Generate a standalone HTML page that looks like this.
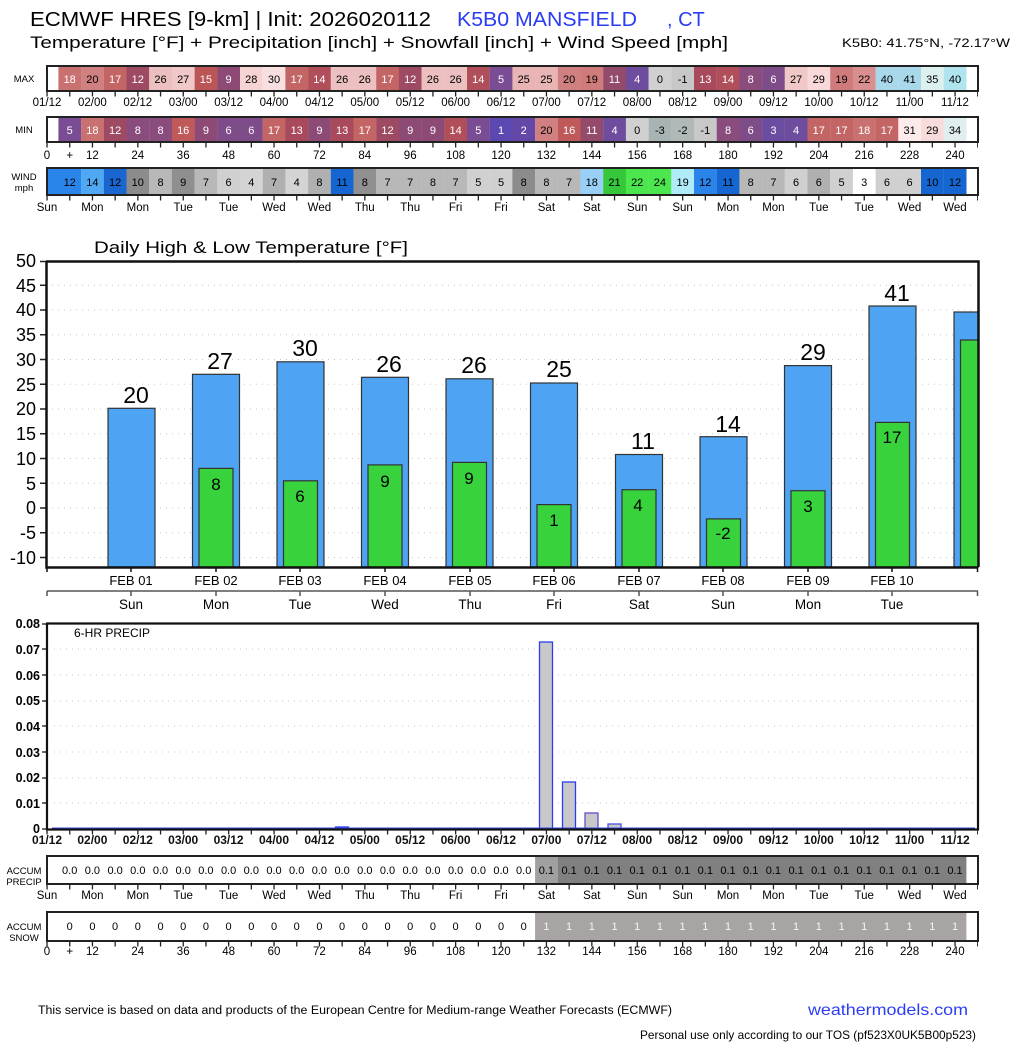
<!DOCTYPE html>
<html><head><meta charset="utf-8"><style>
html,body{margin:0;padding:0;background:#fff;}
svg{display:block;font-family:"Liberation Sans",sans-serif;}
.c{font-size:11px;text-anchor:middle;}
.w{fill:#fff;}
.t{font-size:11.5px;text-anchor:middle;fill:#000;}
.l{font-size:9.5px;text-anchor:middle;}
</style></head><body>
<svg width="1024" height="1044" viewBox="0 0 1024 1044" xmlns="http://www.w3.org/2000/svg">
<rect width="1024" height="1044" fill="#fff"/>
<!-- header -->
<text x="30" y="26" font-size="20" textLength="401" lengthAdjust="spacingAndGlyphs">ECMWF HRES [9-km] | Init: 2026020112</text>
<text x="457" y="26" font-size="20" fill="#2b3cf5" textLength="180" lengthAdjust="spacingAndGlyphs">K5B0 MANSFIELD</text>
<text x="667" y="26" font-size="20" fill="#2b3cf5">, CT</text>
<text x="30" y="48" font-size="17" textLength="698" lengthAdjust="spacingAndGlyphs">Temperature [°F] + Precipitation [inch] + Snowfall [inch] + Wind Speed [mph]</text>
<text x="842" y="47" font-size="12" textLength="168" lengthAdjust="spacingAndGlyphs">K5B0: 41.75°N, -72.17°W</text>

<!-- MAX row -->
<text x="24" y="82" class="l">MAX</text>
<g>
<rect x="58.4" y="66" width="22.8" height="25" fill="#c97070"/><rect x="81.1" y="66" width="22.8" height="25" fill="#d08080"/><rect x="103.8" y="66" width="22.8" height="25" fill="#c46565"/><rect x="126.5" y="66" width="22.8" height="25" fill="#9e4a62"/><rect x="149.2" y="66" width="22.8" height="25" fill="#ecc0c0"/><rect x="171.9" y="66" width="22.8" height="25" fill="#f0c8c8"/><rect x="194.6" y="66" width="22.8" height="25" fill="#bc5555"/><rect x="217.3" y="66" width="22.8" height="25" fill="#8c4a75"/><rect x="240" y="66" width="22.8" height="25" fill="#f6d4d4"/><rect x="262.7" y="66" width="22.8" height="25" fill="#f9e0e0"/><rect x="285.4" y="66" width="22.8" height="25" fill="#c46565"/><rect x="308.1" y="66" width="22.8" height="25" fill="#b04e5a"/><rect x="330.8" y="66" width="22.8" height="25" fill="#ecc0c0"/><rect x="353.5" y="66" width="22.8" height="25" fill="#ecc0c0"/><rect x="376.2" y="66" width="22.8" height="25" fill="#c46565"/><rect x="398.9" y="66" width="22.8" height="25" fill="#9e4a62"/><rect x="421.6" y="66" width="22.8" height="25" fill="#ecc0c0"/><rect x="444.3" y="66" width="22.8" height="25" fill="#ecc0c0"/><rect x="467" y="66" width="22.8" height="25" fill="#b04e5a"/><rect x="489.7" y="66" width="22.8" height="25" fill="#7a4c93"/>
<rect x="512.4" y="66" width="22.8" height="25" fill="#e8b4b4"/><rect x="535.1" y="66" width="22.8" height="25" fill="#e8b4b4"/><rect x="557.8" y="66" width="22.8" height="25" fill="#d08080"/><rect x="580.5" y="66" width="22.8" height="25" fill="#cf7b7b"/><rect x="603.2" y="66" width="22.8" height="25" fill="#944a6a"/><rect x="625.9" y="66" width="22.8" height="25" fill="#6e4c9e"/><rect x="648.6" y="66" width="22.8" height="25" fill="#d0d0d0"/><rect x="671.3" y="66" width="22.8" height="25" fill="#c8c8c8"/><rect x="694" y="66" width="22.8" height="25" fill="#a84a5c"/><rect x="716.7" y="66" width="22.8" height="25" fill="#b04e5a"/><rect x="739.4" y="66" width="22.8" height="25" fill="#8a4c7c"/><rect x="762.1" y="66" width="22.8" height="25" fill="#7e4c88"/><rect x="784.8" y="66" width="22.8" height="25" fill="#f0c8c8"/><rect x="807.5" y="66" width="22.8" height="25" fill="#f8d8d8"/><rect x="830.2" y="66" width="22.8" height="25" fill="#cf7b7b"/><rect x="852.9" y="66" width="22.8" height="25" fill="#d98f8f"/><rect x="875.6" y="66" width="22.8" height="25" fill="#a8d8ea"/><rect x="898.3" y="66" width="22.8" height="25" fill="#a8d8ea"/><rect x="921" y="66" width="22.8" height="25" fill="#ddf0f0"/><rect x="943.7" y="66" width="22.8" height="25" fill="#b0e4ee"/>
</g>
<rect x="47" y="66" width="931" height="25" fill="none" stroke="#222" stroke-width="2"/>
<g class="c">
<text x="69.7" y="83" class="w">18</text><text x="92.4" y="83">20</text><text x="115.1" y="83" class="w">17</text><text x="137.8" y="83" class="w">12</text><text x="160.5" y="83">26</text><text x="183.2" y="83">27</text><text x="205.9" y="83" class="w">15</text><text x="228.6" y="83" class="w">9</text><text x="251.3" y="83">28</text><text x="274" y="83">30</text><text x="296.7" y="83" class="w">17</text><text x="319.4" y="83" class="w">14</text><text x="342.1" y="83">26</text><text x="364.8" y="83">26</text><text x="387.5" y="83" class="w">17</text><text x="410.2" y="83" class="w">12</text><text x="432.9" y="83">26</text><text x="455.6" y="83">26</text><text x="478.3" y="83" class="w">14</text><text x="501" y="83" class="w">5</text>
<text x="523.7" y="83">25</text><text x="546.4" y="83">25</text><text x="569.1" y="83">20</text><text x="591.8" y="83">19</text><text x="614.5" y="83" class="w">11</text><text x="637.2" y="83" class="w">4</text><text x="659.9" y="83">0</text><text x="682.6" y="83">-1</text><text x="705.3" y="83" class="w">13</text><text x="728" y="83" class="w">14</text><text x="750.7" y="83" class="w">8</text><text x="773.4" y="83" class="w">6</text><text x="796.1" y="83">27</text><text x="818.8" y="83">29</text><text x="841.5" y="83">19</text><text x="864.2" y="83">22</text><text x="886.9" y="83">40</text><text x="909.6" y="83">41</text><text x="932.3" y="83">35</text><text x="955" y="83">40</text>
</g>
<line x1="46.4" y1="94" x2="978" y2="94" stroke="#222" stroke-width="5" stroke-dasharray="1.3 21.4"/>
<g class="t">
<text x="47" y="106">01/12</text><text x="92.4" y="106">02/00</text><text x="137.8" y="106">02/12</text><text x="183.2" y="106">03/00</text><text x="228.6" y="106">03/12</text><text x="274" y="106">04/00</text><text x="319.4" y="106">04/12</text><text x="364.8" y="106">05/00</text><text x="410.2" y="106">05/12</text><text x="455.6" y="106">06/00</text><text x="501" y="106">06/12</text><text x="546.4" y="106">07/00</text><text x="591.8" y="106">07/12</text><text x="637.2" y="106">08/00</text><text x="682.6" y="106">08/12</text><text x="728" y="106">09/00</text><text x="773.4" y="106">09/12</text><text x="818.8" y="106">10/00</text><text x="864.2" y="106">10/12</text><text x="909.6" y="106">11/00</text><text x="955" y="106">11/12</text>
</g>

<!-- MIN row -->
<text x="24" y="133" class="l">MIN</text>
<g>
<rect x="58.4" y="117" width="22.8" height="25" fill="#7a4c93"/><rect x="81.1" y="117" width="22.8" height="25" fill="#c97070"/><rect x="103.8" y="117" width="22.8" height="25" fill="#9e4a62"/><rect x="126.5" y="117" width="22.8" height="25" fill="#8a4c7c"/><rect x="149.2" y="117" width="22.8" height="25" fill="#8a4c7c"/><rect x="171.9" y="117" width="22.8" height="25" fill="#c05a5a"/><rect x="194.6" y="117" width="22.8" height="25" fill="#8c4a75"/><rect x="217.3" y="117" width="22.8" height="25" fill="#7e4c88"/><rect x="240" y="117" width="22.8" height="25" fill="#7e4c88"/><rect x="262.7" y="117" width="22.8" height="25" fill="#c46565"/><rect x="285.4" y="117" width="22.8" height="25" fill="#a84a5c"/><rect x="308.1" y="117" width="22.8" height="25" fill="#8c4a75"/><rect x="330.8" y="117" width="22.8" height="25" fill="#a84a5c"/><rect x="353.5" y="117" width="22.8" height="25" fill="#c46565"/><rect x="376.2" y="117" width="22.8" height="25" fill="#9e4a62"/><rect x="398.9" y="117" width="22.8" height="25" fill="#8c4a75"/><rect x="421.6" y="117" width="22.8" height="25" fill="#8c4a75"/><rect x="444.3" y="117" width="22.8" height="25" fill="#b04e5a"/><rect x="467" y="117" width="22.8" height="25" fill="#7a4c93"/><rect x="489.7" y="117" width="22.8" height="25" fill="#5c48b0"/>
<rect x="512.4" y="117" width="22.8" height="25" fill="#6448a8"/><rect x="535.1" y="117" width="22.8" height="25" fill="#d08080"/><rect x="557.8" y="117" width="22.8" height="25" fill="#c05a5a"/><rect x="580.5" y="117" width="22.8" height="25" fill="#944a6a"/><rect x="603.2" y="117" width="22.8" height="25" fill="#6e4c9e"/><rect x="625.9" y="117" width="22.8" height="25" fill="#d0d0d0"/><rect x="648.6" y="117" width="22.8" height="25" fill="#a8b4b4"/><rect x="671.3" y="117" width="22.8" height="25" fill="#b0b8b8"/><rect x="694" y="117" width="22.8" height="25" fill="#c8c8c8"/><rect x="716.7" y="117" width="22.8" height="25" fill="#8a4c7c"/><rect x="739.4" y="117" width="22.8" height="25" fill="#7e4c88"/><rect x="762.1" y="117" width="22.8" height="25" fill="#6a4ca0"/><rect x="784.8" y="117" width="22.8" height="25" fill="#6e4c9e"/><rect x="807.5" y="117" width="22.8" height="25" fill="#c46565"/><rect x="830.2" y="117" width="22.8" height="25" fill="#c46565"/><rect x="852.9" y="117" width="22.8" height="25" fill="#c97070"/><rect x="875.6" y="117" width="22.8" height="25" fill="#c46565"/><rect x="898.3" y="117" width="22.8" height="25" fill="#fdeaea"/><rect x="921" y="117" width="22.8" height="25" fill="#f8dcdc"/><rect x="943.7" y="117" width="22.8" height="25" fill="#e0eef0"/>
</g>
<rect x="47" y="117" width="931" height="25" fill="none" stroke="#222" stroke-width="2"/>
<g class="c">
<text x="69.7" y="134" class="w">5</text><text x="92.4" y="134" class="w">18</text><text x="115.1" y="134" class="w">12</text><text x="137.8" y="134" class="w">8</text><text x="160.5" y="134" class="w">8</text><text x="183.2" y="134" class="w">16</text><text x="205.9" y="134" class="w">9</text><text x="228.6" y="134" class="w">6</text><text x="251.3" y="134" class="w">6</text><text x="274" y="134" class="w">17</text><text x="296.7" y="134" class="w">13</text><text x="319.4" y="134" class="w">9</text><text x="342.1" y="134" class="w">13</text><text x="364.8" y="134" class="w">17</text><text x="387.5" y="134" class="w">12</text><text x="410.2" y="134" class="w">9</text><text x="432.9" y="134" class="w">9</text><text x="455.6" y="134" class="w">14</text><text x="478.3" y="134" class="w">5</text><text x="501" y="134" class="w">1</text>
<text x="523.7" y="134" class="w">2</text><text x="546.4" y="134">20</text><text x="569.1" y="134" class="w">16</text><text x="591.8" y="134" class="w">11</text><text x="614.5" y="134" class="w">4</text><text x="637.2" y="134">0</text><text x="659.9" y="134">-3</text><text x="682.6" y="134">-2</text><text x="705.3" y="134">-1</text><text x="728" y="134" class="w">8</text><text x="750.7" y="134" class="w">6</text><text x="773.4" y="134" class="w">3</text><text x="796.1" y="134" class="w">4</text><text x="818.8" y="134" class="w">17</text><text x="841.5" y="134" class="w">17</text><text x="864.2" y="134" class="w">18</text><text x="886.9" y="134" class="w">17</text><text x="909.6" y="134">31</text><text x="932.3" y="134">29</text><text x="955" y="134">34</text>
</g>
<line x1="46.4" y1="145" x2="978" y2="145" stroke="#222" stroke-width="5" stroke-dasharray="1.3 21.4"/>
<g class="t">
<text x="47" y="159">0</text><text x="69.7" y="159">+</text><text x="92.4" y="159">12</text><text x="137.8" y="159">24</text><text x="183.2" y="159">36</text><text x="228.6" y="159">48</text><text x="274" y="159">60</text><text x="319.4" y="159">72</text><text x="364.8" y="159">84</text><text x="410.2" y="159">96</text><text x="455.6" y="159">108</text><text x="501" y="159">120</text><text x="546.4" y="159">132</text><text x="591.8" y="159">144</text><text x="637.2" y="159">156</text><text x="682.6" y="159">168</text><text x="728" y="159">180</text><text x="773.4" y="159">192</text><text x="818.8" y="159">204</text><text x="864.2" y="159">216</text><text x="909.6" y="159">228</text><text x="955" y="159">240</text>
</g>

<!-- WIND row -->
<text x="24" y="180" class="l">WIND</text><text x="24" y="191" class="l">mph</text>
<g>
<rect x="47" y="168" width="34.2" height="27" fill="#2a84ea"/><rect x="81.1" y="168" width="22.8" height="27" fill="#4ea8f2"/><rect x="103.8" y="168" width="22.8" height="27" fill="#1a66d0"/><rect x="126.5" y="168" width="22.8" height="27" fill="#8c8c8c"/><rect x="149.2" y="168" width="22.8" height="27" fill="#b8b8b8"/><rect x="171.9" y="168" width="22.8" height="27" fill="#8f8f8f"/><rect x="194.6" y="168" width="22.8" height="27" fill="#b8b8b8"/><rect x="217.3" y="168" width="22.8" height="27" fill="#d0d0d0"/><rect x="240" y="168" width="22.8" height="27" fill="#d4d4d4"/><rect x="262.7" y="168" width="22.8" height="27" fill="#b0b0b0"/><rect x="285.4" y="168" width="22.8" height="27" fill="#d4d4d4"/><rect x="308.1" y="168" width="22.8" height="27" fill="#b0b0b0"/><rect x="330.8" y="168" width="22.8" height="27" fill="#1566d0"/><rect x="353.5" y="168" width="22.8" height="27" fill="#909090"/><rect x="376.2" y="168" width="22.8" height="27" fill="#b8b8b8"/><rect x="398.9" y="168" width="22.8" height="27" fill="#b8b8b8"/><rect x="421.6" y="168" width="22.8" height="27" fill="#b8b8b8"/><rect x="444.3" y="168" width="22.8" height="27" fill="#b8b8b8"/><rect x="467" y="168" width="22.8" height="27" fill="#d0d0d0"/><rect x="489.7" y="168" width="22.8" height="27" fill="#d0d0d0"/>
<rect x="512.4" y="168" width="22.8" height="27" fill="#8c8c8c"/><rect x="535.1" y="168" width="22.8" height="27" fill="#b8b8b8"/><rect x="557.8" y="168" width="22.8" height="27" fill="#b8b8b8"/><rect x="580.5" y="168" width="22.8" height="27" fill="#99d0f8"/><rect x="603.2" y="168" width="22.8" height="27" fill="#36c83a"/><rect x="625.9" y="168" width="22.8" height="27" fill="#4ce64e"/><rect x="648.6" y="168" width="22.8" height="27" fill="#4ce64e"/><rect x="671.3" y="168" width="22.8" height="27" fill="#b0ecf8"/><rect x="694" y="168" width="22.8" height="27" fill="#2a84ea"/><rect x="716.7" y="168" width="22.8" height="27" fill="#1566d0"/><rect x="739.4" y="168" width="22.8" height="27" fill="#b8b8b8"/><rect x="762.1" y="168" width="22.8" height="27" fill="#b8b8b8"/><rect x="784.8" y="168" width="22.8" height="27" fill="#d0d0d0"/><rect x="807.5" y="168" width="22.8" height="27" fill="#b0b0b0"/><rect x="830.2" y="168" width="22.8" height="27" fill="#d0d0d0"/><rect x="852.9" y="168" width="22.8" height="27" fill="#ffffff"/><rect x="875.6" y="168" width="22.8" height="27" fill="#d0d0d0"/><rect x="898.3" y="168" width="22.8" height="27" fill="#d0d0d0"/><rect x="921" y="168" width="22.8" height="27" fill="#1566d0"/><rect x="943.7" y="168" width="22.8" height="27" fill="#1566d0"/>
</g>
<rect x="47" y="168" width="931" height="27" fill="none" stroke="#222" stroke-width="2"/>
<g class="c">
<text x="69.7" y="186">12</text><text x="92.4" y="186">14</text><text x="115.1" y="186">12</text><text x="137.8" y="186">10</text><text x="160.5" y="186">8</text><text x="183.2" y="186">9</text><text x="205.9" y="186">7</text><text x="228.6" y="186">6</text><text x="251.3" y="186">4</text><text x="274" y="186">7</text><text x="296.7" y="186">4</text><text x="319.4" y="186">8</text><text x="342.1" y="186">11</text><text x="364.8" y="186">8</text><text x="387.5" y="186">7</text><text x="410.2" y="186">7</text><text x="432.9" y="186">8</text><text x="455.6" y="186">7</text><text x="478.3" y="186">5</text><text x="501" y="186">5</text>
<text x="523.7" y="186">8</text><text x="546.4" y="186">8</text><text x="569.1" y="186">7</text><text x="591.8" y="186">18</text><text x="614.5" y="186">21</text><text x="637.2" y="186">22</text><text x="659.9" y="186">24</text><text x="682.6" y="186">19</text><text x="705.3" y="186">12</text><text x="728" y="186">11</text><text x="750.7" y="186">8</text><text x="773.4" y="186">7</text><text x="796.1" y="186">6</text><text x="818.8" y="186">6</text><text x="841.5" y="186">5</text><text x="864.2" y="186">3</text><text x="886.9" y="186">6</text><text x="909.6" y="186">6</text><text x="932.3" y="186">10</text><text x="955" y="186">12</text>
</g>
<line x1="46.4" y1="198" x2="978" y2="198" stroke="#222" stroke-width="5" stroke-dasharray="1.3 21.4"/>
<g class="t">
<text x="47" y="211">Sun</text><text x="92.4" y="211">Mon</text><text x="137.8" y="211">Mon</text><text x="183.2" y="211">Tue</text><text x="228.6" y="211">Tue</text><text x="274" y="211">Wed</text><text x="319.4" y="211">Wed</text><text x="364.8" y="211">Thu</text><text x="410.2" y="211">Thu</text><text x="455.6" y="211">Fri</text><text x="501" y="211">Fri</text><text x="546.4" y="211">Sat</text><text x="591.8" y="211">Sat</text><text x="637.2" y="211">Sun</text><text x="682.6" y="211">Sun</text><text x="728" y="211">Mon</text><text x="773.4" y="211">Mon</text><text x="818.8" y="211">Tue</text><text x="864.2" y="211">Tue</text><text x="909.6" y="211">Wed</text><text x="955" y="211">Wed</text>
</g>

<!-- Temperature chart -->
<text x="94" y="253" font-size="17" textLength="314" lengthAdjust="spacingAndGlyphs">Daily High &amp; Low Temperature [°F]</text>
<g stroke="#c8c8c8" stroke-width="1" stroke-dasharray="1 5">
<line x1="52" y1="285.2" x2="976" y2="285.2"/><line x1="52" y1="310" x2="976" y2="310"/><line x1="52" y1="334.7" x2="976" y2="334.7"/><line x1="52" y1="359.5" x2="976" y2="359.5"/><line x1="52" y1="384.2" x2="976" y2="384.2"/><line x1="52" y1="409" x2="976" y2="409"/><line x1="52" y1="433.7" x2="976" y2="433.7"/><line x1="52" y1="458.5" x2="976" y2="458.5"/><line x1="52" y1="483.2" x2="976" y2="483.2"/><line x1="52" y1="508" x2="976" y2="508"/><line x1="52" y1="532.7" x2="976" y2="532.7"/><line x1="52" y1="557.5" x2="976" y2="557.5"/>
</g>
<g font-size="18" text-anchor="end">
<text x="36" y="267">50</text><text x="36" y="292">45</text><text x="36" y="316">40</text><text x="36" y="341">35</text><text x="36" y="366">30</text><text x="36" y="391">25</text><text x="36" y="415">20</text><text x="36" y="440">15</text><text x="36" y="465">10</text><text x="36" y="490">5</text><text x="36" y="514">0</text><text x="36" y="539">-5</text><text x="36" y="564">-10</text>
</g>
<g stroke="#222" stroke-width="1.5">
<path d="M40 261.5h6M40 285.2h6M40 310h6M40 334.7h6M40 359.5h6M40 384.2h6M40 409h6M40 433.7h6M40 458.5h6M40 483.2h6M40 508h6M40 532.7h6M40 557.5h6" fill="none"/>
</g>
<g stroke="#333" stroke-width="1.2">
<rect x="108" y="408.3" width="47" height="158.7" fill="#4ea3f2"/>
<rect x="192.5" y="374.3" width="47" height="192.7" fill="#4ea3f2"/>
<rect x="277" y="361.8" width="47" height="205.2" fill="#4ea3f2"/>
<rect x="361.5" y="377.3" width="47" height="189.7" fill="#4ea3f2"/>
<rect x="446" y="378.8" width="47" height="188.2" fill="#4ea3f2"/>
<rect x="530.5" y="383" width="47" height="184" fill="#4ea3f2"/>
<rect x="615.5" y="454.5" width="47" height="112.5" fill="#4ea3f2"/>
<rect x="700" y="436.7" width="47" height="130.3" fill="#4ea3f2"/>
<rect x="784.5" y="365.6" width="47" height="201.4" fill="#4ea3f2"/>
<rect x="869" y="306" width="47" height="261" fill="#4ea3f2"/>
<rect x="954" y="312" width="30" height="255" fill="#4ea3f2"/>
<rect x="199" y="468.4" width="34" height="98.6" fill="#38d23c"/>
<rect x="283.5" y="480.8" width="34" height="86.2" fill="#38d23c"/>
<rect x="368" y="464.9" width="34" height="102.1" fill="#38d23c"/>
<rect x="452.5" y="462.4" width="34" height="104.6" fill="#38d23c"/>
<rect x="537" y="504.6" width="34" height="62.4" fill="#38d23c"/>
<rect x="622" y="489.7" width="34" height="77.3" fill="#38d23c"/>
<rect x="706.5" y="518.9" width="34" height="48.1" fill="#38d23c"/>
<rect x="791" y="490.7" width="34" height="76.3" fill="#38d23c"/>
<rect x="875.5" y="422.4" width="34" height="144.6" fill="#38d23c"/>
<rect x="960.5" y="340" width="24" height="227" fill="#38d23c"/>
</g>
<rect x="979" y="255" width="45" height="320" fill="#fff"/>
<g font-size="23" text-anchor="middle">
<text x="136" y="403">20</text><text x="220" y="369">27</text><text x="305" y="356">30</text><text x="389" y="372">26</text><text x="474" y="373">26</text><text x="559" y="377">25</text><text x="643" y="449">11</text><text x="728" y="432">14</text><text x="813" y="360">29</text><text x="897" y="301">41</text>
</g>
<g font-size="17" text-anchor="middle">
<text x="216" y="490">8</text><text x="300" y="502">6</text><text x="385" y="487">9</text><text x="469" y="484">9</text><text x="554" y="526">1</text><text x="638" y="511">4</text><text x="723" y="539">-2</text><text x="808" y="512">3</text><text x="892" y="443">17</text>
</g>
<path d="M46.5 261v306.5H978M46 261.5H978.5V567" fill="none" stroke="#111" stroke-width="2.5"/>
<path d="M47 567v5M131 567v5M216 567v5M300 567v5M385 567v5M470 567v5M554 567v5M639 567v5M723 567v5M808 567v5M892 567v5M977.5 567v5" stroke="#111" stroke-width="1.5"/>
<g font-size="13" text-anchor="middle">
<text x="131" y="585">FEB 01</text><text x="216" y="585">FEB 02</text><text x="300" y="585">FEB 03</text><text x="385" y="585">FEB 04</text><text x="470" y="585">FEB 05</text><text x="554" y="585">FEB 06</text><text x="639" y="585">FEB 07</text><text x="723" y="585">FEB 08</text><text x="808" y="585">FEB 09</text><text x="892" y="585">FEB 10</text>
</g>
<path d="M47 591H978M47 591v5M131 591v5M216 591v5M300 591v5M385 591v5M470 591v5M554 591v5M639 591v5M723 591v5M808 591v5M892 591v5M977.5 591v5" stroke="#555" stroke-width="1.5" fill="none"/>
<g font-size="13.5" text-anchor="middle">
<text x="131" y="609">Sun</text><text x="216" y="609">Mon</text><text x="300" y="609">Tue</text><text x="385" y="609">Wed</text><text x="470" y="609">Thu</text><text x="554" y="609">Fri</text><text x="639" y="609">Sat</text><text x="723" y="609">Sun</text><text x="808" y="609">Mon</text><text x="892" y="609">Tue</text>
</g>

<!-- Precip chart -->
<g stroke="#c8c8c8" stroke-width="1" stroke-dasharray="1 5">
<line x1="54" y1="649" x2="976" y2="649"/><line x1="54" y1="675" x2="976" y2="675"/><line x1="54" y1="701" x2="976" y2="701"/><line x1="54" y1="726" x2="976" y2="726"/><line x1="54" y1="752" x2="976" y2="752"/><line x1="54" y1="778" x2="976" y2="778"/><line x1="54" y1="803" x2="976" y2="803"/>
</g>
<g font-size="12.5" font-weight="bold" text-anchor="end">
<text x="40" y="628">0.08</text><text x="40" y="654">0.07</text><text x="40" y="680">0.06</text><text x="40" y="705">0.05</text><text x="40" y="731">0.04</text><text x="40" y="757">0.03</text><text x="40" y="782">0.02</text><text x="40" y="808">0.01</text><text x="40" y="833">0</text>
</g>
<path d="M42 624h5M42 649h5M42 675h5M42 701h5M42 726h5M42 752h5M42 778h5M42 803h5M42 829h5" stroke="#111" stroke-width="1.3"/>
<text x="74" y="637" font-size="12">6-HR PRECIP</text>
<g fill="#c8c8c8" stroke="#2a3cf5" stroke-width="1.3">
<rect x="539.5" y="642" width="13" height="187"/>
<rect x="562.5" y="782" width="13" height="47"/>
<rect x="585" y="813" width="13" height="16" stroke="#6a4cd0"/>
<rect x="608" y="824" width="13" height="5" stroke="#4a50e0"/>
<rect x="335.5" y="827" width="13" height="2" fill="#4a4ae8"/>
</g>
<line x1="52" y1="828.5" x2="975" y2="828.5" stroke="#3a4ae8" stroke-width="2"/>
<path d="M47 624V829.5H978V623.5H46" fill="none" stroke="#111" stroke-width="2.2"/>
<line x1="46.4" y1="832" x2="978" y2="832" stroke="#222" stroke-width="5" stroke-dasharray="1.3 21.4"/>
<g font-size="12" font-weight="bold" text-anchor="middle" fill="#111">
<text x="47" y="844">01/12</text><text x="92.4" y="844">02/00</text><text x="137.8" y="844">02/12</text><text x="183.2" y="844">03/00</text><text x="228.6" y="844">03/12</text><text x="274" y="844">04/00</text><text x="319.4" y="844">04/12</text><text x="364.8" y="844">05/00</text><text x="410.2" y="844">05/12</text><text x="455.6" y="844">06/00</text><text x="501" y="844">06/12</text><text x="546.4" y="844">07/00</text><text x="591.8" y="844">07/12</text><text x="637.2" y="844">08/00</text><text x="682.6" y="844">08/12</text><text x="728" y="844">09/00</text><text x="773.4" y="844">09/12</text><text x="818.8" y="844">10/00</text><text x="864.2" y="844">10/12</text><text x="909.6" y="844">11/00</text><text x="955" y="844">11/12</text>
</g>

<!-- ACCUM PRECIP -->
<text x="24" y="874" class="l">ACCUM</text><text x="24" y="885" class="l">PRECIP</text>
<rect x="535.1" y="856" width="22.8" height="28" fill="#a0a0a0"/>
<rect x="557.8" y="856" width="408.6" height="28" fill="#808080"/>
<rect x="47" y="856" width="931" height="28" fill="none" stroke="#222" stroke-width="2"/>
<g class="c">
<text x="69.7" y="874">0.0</text><text x="92.4" y="874">0.0</text><text x="115.1" y="874">0.0</text><text x="137.8" y="874">0.0</text><text x="160.5" y="874">0.0</text><text x="183.2" y="874">0.0</text><text x="205.9" y="874">0.0</text><text x="228.6" y="874">0.0</text><text x="251.3" y="874">0.0</text><text x="274" y="874">0.0</text><text x="296.7" y="874">0.0</text><text x="319.4" y="874">0.0</text><text x="342.1" y="874">0.0</text><text x="364.8" y="874">0.0</text><text x="387.5" y="874">0.0</text><text x="410.2" y="874">0.0</text><text x="432.9" y="874">0.0</text><text x="455.6" y="874">0.0</text><text x="478.3" y="874">0.0</text><text x="501" y="874">0.0</text><text x="523.7" y="874">0.0</text>
<text x="546.4" y="874">0.1</text><text x="569.1" y="874">0.1</text><text x="591.8" y="874">0.1</text><text x="614.5" y="874">0.1</text><text x="637.2" y="874">0.1</text><text x="659.9" y="874">0.1</text><text x="682.6" y="874">0.1</text><text x="705.3" y="874">0.1</text><text x="728" y="874">0.1</text><text x="750.7" y="874">0.1</text><text x="773.4" y="874">0.1</text><text x="796.1" y="874">0.1</text><text x="818.8" y="874">0.1</text><text x="841.5" y="874">0.1</text><text x="864.2" y="874">0.1</text><text x="886.9" y="874">0.1</text><text x="909.6" y="874">0.1</text><text x="932.3" y="874">0.1</text><text x="955" y="874">0.1</text>
</g>
<line x1="46.4" y1="887" x2="978" y2="887" stroke="#222" stroke-width="5" stroke-dasharray="1.3 21.4"/>
<g class="t">
<text x="47" y="899">Sun</text><text x="92.4" y="899">Mon</text><text x="137.8" y="899">Mon</text><text x="183.2" y="899">Tue</text><text x="228.6" y="899">Tue</text><text x="274" y="899">Wed</text><text x="319.4" y="899">Wed</text><text x="364.8" y="899">Thu</text><text x="410.2" y="899">Thu</text><text x="455.6" y="899">Fri</text><text x="501" y="899">Fri</text><text x="546.4" y="899">Sat</text><text x="591.8" y="899">Sat</text><text x="637.2" y="899">Sun</text><text x="682.6" y="899">Sun</text><text x="728" y="899">Mon</text><text x="773.4" y="899">Mon</text><text x="818.8" y="899">Tue</text><text x="864.2" y="899">Tue</text><text x="909.6" y="899">Wed</text><text x="955" y="899">Wed</text>
</g>

<!-- ACCUM SNOW -->
<text x="24" y="930" class="l">ACCUM</text><text x="24" y="941" class="l">SNOW</text>
<rect x="535.1" y="912" width="431.3" height="29" fill="#a8a4a4"/>
<rect x="47" y="912" width="931" height="29" fill="none" stroke="#222" stroke-width="2"/>
<g class="c">
<text x="69.7" y="930">0</text><text x="92.4" y="930">0</text><text x="115.1" y="930">0</text><text x="137.8" y="930">0</text><text x="160.5" y="930">0</text><text x="183.2" y="930">0</text><text x="205.9" y="930">0</text><text x="228.6" y="930">0</text><text x="251.3" y="930">0</text><text x="274" y="930">0</text><text x="296.7" y="930">0</text><text x="319.4" y="930">0</text><text x="342.1" y="930">0</text><text x="364.8" y="930">0</text><text x="387.5" y="930">0</text><text x="410.2" y="930">0</text><text x="432.9" y="930">0</text><text x="455.6" y="930">0</text><text x="478.3" y="930">0</text><text x="501" y="930">0</text><text x="523.7" y="930">0</text>
<g fill="#f4f4f4"><text x="546.4" y="930">1</text><text x="569.1" y="930">1</text><text x="591.8" y="930">1</text><text x="614.5" y="930">1</text><text x="637.2" y="930">1</text><text x="659.9" y="930">1</text><text x="682.6" y="930">1</text><text x="705.3" y="930">1</text><text x="728" y="930">1</text><text x="750.7" y="930">1</text><text x="773.4" y="930">1</text><text x="796.1" y="930">1</text><text x="818.8" y="930">1</text><text x="841.5" y="930">1</text><text x="864.2" y="930">1</text><text x="886.9" y="930">1</text><text x="909.6" y="930">1</text><text x="932.3" y="930">1</text><text x="955" y="930">1</text></g>
</g>
<line x1="46.4" y1="944" x2="978" y2="944" stroke="#222" stroke-width="5" stroke-dasharray="1.3 21.4"/>
<g class="t">
<text x="47" y="955">0</text><text x="69.7" y="955">+</text><text x="92.4" y="955">12</text><text x="137.8" y="955">24</text><text x="183.2" y="955">36</text><text x="228.6" y="955">48</text><text x="274" y="955">60</text><text x="319.4" y="955">72</text><text x="364.8" y="955">84</text><text x="410.2" y="955">96</text><text x="455.6" y="955">108</text><text x="501" y="955">120</text><text x="546.4" y="955">132</text><text x="591.8" y="955">144</text><text x="637.2" y="955">156</text><text x="682.6" y="955">168</text><text x="728" y="955">180</text><text x="773.4" y="955">192</text><text x="818.8" y="955">204</text><text x="864.2" y="955">216</text><text x="909.6" y="955">228</text><text x="955" y="955">240</text>
</g>

<!-- footer -->
<text x="38" y="1014" font-size="11.5" textLength="634" lengthAdjust="spacingAndGlyphs">This service is based on data and products of the European Centre for Medium-range Weather Forecasts (ECMWF)</text>
<text x="808" y="1015" font-size="16" fill="#2b3cf5" textLength="160" lengthAdjust="spacingAndGlyphs">weathermodels.com</text>
<text x="640" y="1039" font-size="12" textLength="336" lengthAdjust="spacingAndGlyphs">Personal use only according to our TOS (pf523X0UK5B00p523)</text>
</svg>
</body></html>
